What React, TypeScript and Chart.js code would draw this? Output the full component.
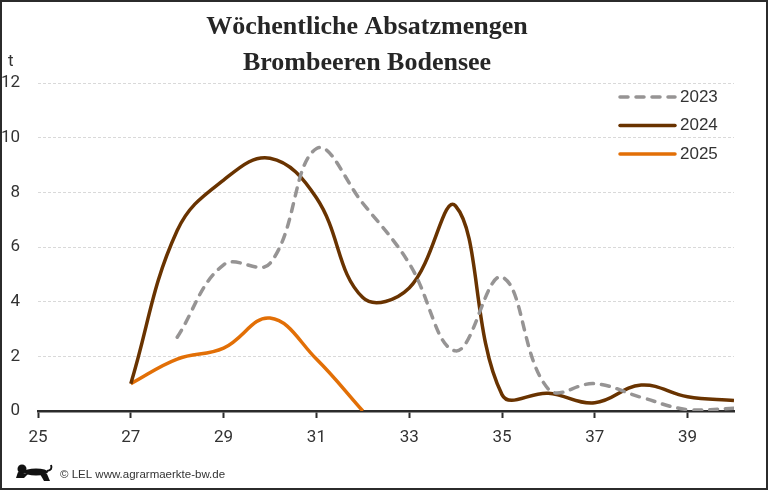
import React, { useEffect, useRef } from 'react';
import { Chart, registerables } from 'chart.js';

Chart.register(...registerables);

// ---- data ----
const weeks = [27, 28, 29, 30, 31, 32, 33, 34, 35, 36, 37, 38, 39, 40];
const sales2023 = [null, 2.7, 5.35, 5.4, 9.6, 7.6, 5.4, 2.2, 4.9, 0.8, 1.0, 0.5, 0.05, 0.1];
const sales2024 = [1.0, 6.6, 8.45, 9.25, 7.8, 4.15, 4.5, 7.5, 0.6, 0.65, 0.3, 0.95, 0.52, 0.38];
const sales2025 = [1.0, 1.9, 2.3, 3.4, 1.9, 0.0, null, null, null, null, null, null, null, null];
const seriesNames = ['2023', '2024', '2025'];
const xTickValues = [25, 27, 29, 31, 33, 35, 37, 39];
const yTickValues = [0, 2, 4, 6, 8, 10, 12];
const titleLines = ['Wöchentliche Absatzmengen', 'Brombeeren Bodensee'];
const unitLabel = 't';
const sourceText = '© LEL www.agrarmaerkte-bw.de';

const toPoints = (vals: (number | null)[]) =>
  weeks.map((w, i) => ({ x: w, y: vals[i] }));

const TICK_FONT = "Roboto, 'Liberation Sans', sans-serif";
const TEXT_FONT = "'Liberation Sans', Arial, sans-serif";

const decorPlugin = {
  id: 'decor',
  beforeDraw(chart: any) {
    const { ctx, width, height } = chart;
    ctx.save();
    ctx.fillStyle = '#ffffff';
    ctx.fillRect(0, 0, width, height);
    ctx.restore();
  },
  afterDraw(chart: any) {
    const { ctx, width, height } = chart;
    ctx.save();
    // border
    ctx.strokeStyle = '#2b2b2b';
    ctx.lineWidth = 2;
    ctx.strokeRect(1, 1, width - 2, height - 2);

    // unit label
    ctx.fillStyle = '#333333';
    ctx.font = `17px ${TICK_FONT}`;
    ctx.textAlign = 'left';
    ctx.textBaseline = 'middle';
    ctx.fillText(unitLabel, 8, 62);

    // legend
    const ds = chart.data.datasets;
    const lx0 = 620, lx1 = 675, ly0 = 97, lstep = 28.5;
    ds.forEach((d: any, i: number) => {
      const y = ly0 + i * lstep;
      ctx.save();
      ctx.strokeStyle = d.borderColor;
      ctx.lineWidth = d.borderWidth;
      ctx.lineCap = 'round';
      ctx.setLineDash(d.borderDash || []);
      ctx.beginPath();
      ctx.moveTo(lx0, y);
      ctx.lineTo(lx1, y);
      ctx.stroke();
      ctx.restore();
      ctx.fillStyle = '#333333';
      ctx.font = `17px ${TEXT_FONT}`;
      ctx.textAlign = 'left';
      ctx.textBaseline = 'middle';
      ctx.fillText(d.label, 680, y);
    });

    // footer logo (simplified lion silhouette)
    ctx.fillStyle = '#111111';
    ctx.beginPath();
    ctx.ellipse(36, 472, 12, 3.5, 0, 0, Math.PI * 2);
    ctx.fill();
    ctx.beginPath();
    ctx.arc(22, 469, 4.5, 0, Math.PI * 2);
    ctx.fill();
    ctx.beginPath();
    ctx.moveTo(18, 472); ctx.lineTo(28, 474); ctx.lineTo(24, 478); ctx.lineTo(16, 478);
    ctx.closePath(); ctx.fill();
    ctx.beginPath();
    ctx.moveTo(40, 474); ctx.lineTo(47, 474); ctx.lineTo(50, 481); ctx.lineTo(44, 481);
    ctx.closePath(); ctx.fill();
    ctx.strokeStyle = '#111111';
    ctx.lineWidth = 2;
    ctx.beginPath();
    ctx.moveTo(47, 471);
    ctx.quadraticCurveTo(53, 470, 51, 465);
    ctx.stroke();

    // footer text
    ctx.fillStyle = '#333333';
    ctx.font = `11.5px ${TEXT_FONT}`;
    ctx.textAlign = 'left';
    ctx.textBaseline = 'middle';
    ctx.fillText(sourceText, 60, 475);
    ctx.restore();
  },
};

export default function App() {
  const ref = useRef<HTMLCanvasElement | null>(null);

  useEffect(() => {
    document.body.style.margin = '0';
    const canvas = ref.current;
    if (!canvas) return;
    const chart = new Chart(canvas, {
      type: 'line',
      data: {
        datasets: [
          {
            label: seriesNames[0],
            data: toPoints(sales2023),
            borderColor: '#969494',
            borderWidth: 3.5,
            borderDash: [8, 8],
            borderCapStyle: 'round',
            pointRadius: 0,
            tension: 0.4,
            fill: false,
          },
          {
            label: seriesNames[1],
            data: toPoints(sales2024),
            borderColor: '#693300',
            borderWidth: 3.5,
            pointRadius: 0,
            tension: 0.4,
            fill: false,
          },
          {
            label: seriesNames[2],
            data: toPoints(sales2025),
            borderColor: '#e26f06',
            borderWidth: 3.5,
            pointRadius: 0,
            tension: 0.4,
            fill: false,
          },
        ],
      },
      options: {
        responsive: false,
        animation: false,
        devicePixelRatio: 1,
        layout: { padding: { left: 0, right: 34, top: 0, bottom: 29 } },
        plugins: {
          legend: { display: false },
          tooltip: { enabled: false },
          title: {
            display: true,
            text: titleLines,
            color: '#262626',
            font: { family: "'Liberation Serif', 'Times New Roman', serif", size: 26, weight: 'bold', lineHeight: 36 / 26 },
            padding: { top: 9, bottom: 2 },
          },
        },
        scales: {
          x: {
            type: 'linear',
            min: 25,
            max: 40,
            afterBuildTicks: (scale: any) => {
              scale.ticks = xTickValues.map((v) => ({ value: v }));
            },
            afterFit: (scale: any) => {
              scale.height = 50;
            },
            ticks: {
              color: '#333333',
              font: { family: TICK_FONT, size: 17 },
              padding: 10,
              maxRotation: 0,
              autoSkip: false,
            },
            grid: {
              display: true,
              drawOnChartArea: false,
              drawTicks: true,
              tickLength: 7,
              tickColor: '#2b2b2b',
              tickWidth: 2,
            },
            border: { display: true, color: '#2b2b2b', width: 2.5 },
          },
          y: {
            type: 'linear',
            min: 0,
            max: 12,
            afterBuildTicks: (scale: any) => {
              scale.ticks = yTickValues.map((v) => ({ value: v }));
            },
            afterFit: (scale: any) => {
              scale.width = 38;
            },
            ticks: {
              color: '#333333',
              font: { family: TICK_FONT, size: 17 },
              padding: 18,
            },
            grid: {
              color: '#d9d9d9',
              lineWidth: 1,
              drawTicks: false,
            },
            border: { display: false, dash: [3, 2] },
          },
        },
      },
      plugins: [decorPlugin],
    } as any);
    return () => chart.destroy();
  }, []);

  return (
    <div style={{ width: 768, height: 490 }}>
      <canvas ref={ref} width={768} height={490} style={{ display: 'block' }} />
    </div>
  );
}
